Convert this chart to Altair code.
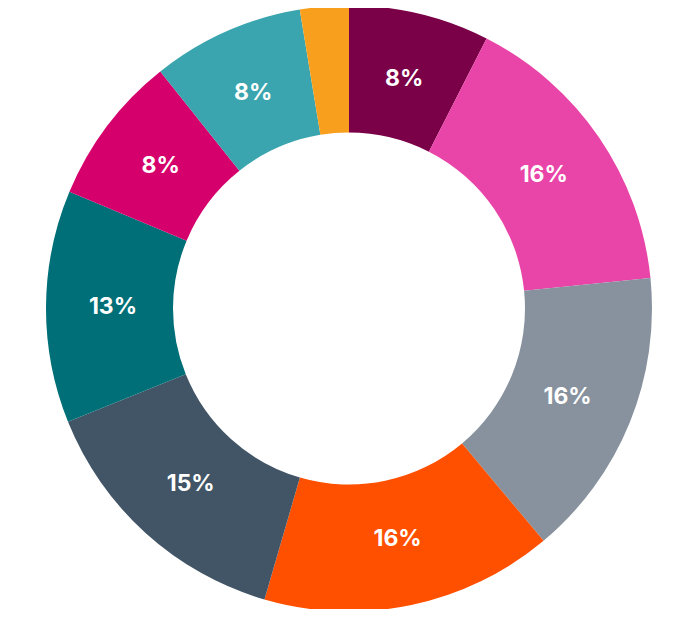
import altair as alt
import pandas as pd

categories = ["A", "B", "C", "D", "E", "F", "G", "H", "I"]
values = [7.5, 15.9, 15.5, 15.6, 14.4, 12.4, 8.0, 8.1, 2.6]
labels = ["8%", "16%", "16%", "16%", "15%", "13%", "8%", "8%", ""]
colors = ["#7A0047", "#E944A8", "#87929E", "#FF5000", "#425566",
          "#006F77", "#D6006D", "#3AA5AE", "#F8A01E"]

df = pd.DataFrame({"cat": categories, "value": values, "label": labels,
                   "order": list(range(len(categories)))})

base = alt.Chart(df).encode(
    theta=alt.Theta("value:Q", stack=True),
    order=alt.Order("order:Q"),
)

arcs = base.mark_arc(outerRadius=303, innerRadius=176, stroke=None).encode(
    color=alt.Color("cat:N", scale=alt.Scale(domain=categories, range=colors), legend=None)
)

text = base.mark_text(radius=236, font="Inter", fontSize=23, fontWeight="bold",
                      color="white").encode(text="label:N")

chart = (arcs + text).properties(
    width=682, height=601, padding=0, autosize=alt.AutoSizeParams(type="none")
).configure_view(stroke=None)

chart.save("out.html", embed_options={"renderer": "svg", "actions": False})
